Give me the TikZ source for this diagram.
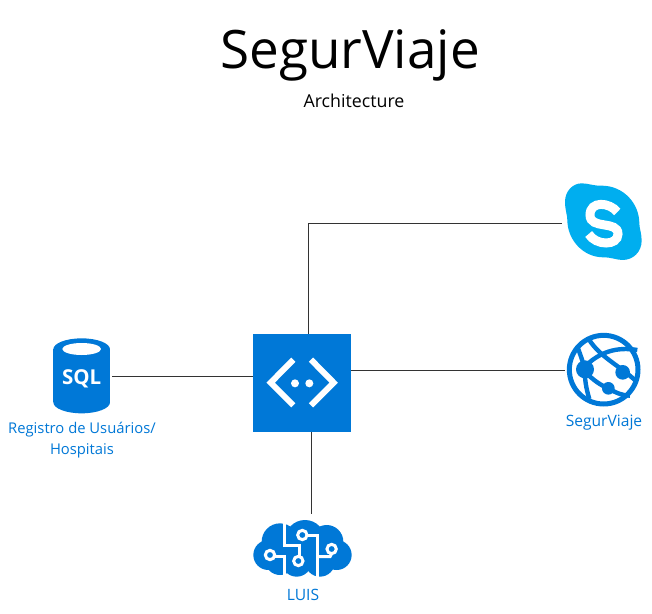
\documentclass[tikz,border=0pt]{standalone}
\usepackage{fontspec}
\setmainfont{Open Sans}
\newfontfamily\sqlfont{Open Sans}
\definecolor{azure}{HTML}{0078D7}
\definecolor{skypeblue}{HTML}{00AEEF}
\definecolor{wire}{HTML}{333333}
\tikzset{
 wirelink/.style={draw=wire,line width=1pt},
 iconlabel/.style={text=azure,font=\fontsize{14.8}{21}\selectfont,align=center,inner sep=0pt},
 icon/.style={shift={(#1)},x=0.3333pt,y=-0.3333pt},
}
\begin{document}
\begin{tikzpicture}[x=1pt,y=-1pt]
\useasboundingbox (0,0) rectangle (652,613);
\fill[white] (0,0) rectangle (652,613);
% titles
\node[inner sep=0pt,font=\fontsize{53}{60}\selectfont] (title) at (350,55) {SegurViaje};
\node[inner sep=0pt,font=\fontsize{17.8}{22}\selectfont] (subtitle) at (354,101) {Architecture};
% hub
\node[fill=azure,inner sep=0pt,minimum width=98pt,minimum height=98pt] (api) at (302,383) {};
\coordinate (skypeend) at (562,223);
\coordinate (webend) at (565,370);
\coordinate (sqlend) at (112,376);
\coordinate (luisend) at (311,514);
\coordinate (apitop) at (308.5,334);
\coordinate (apiright) at (351,370);
\coordinate (apileft) at (253,376);
\coordinate (apibottom) at (311,432);
\draw[wirelink] (apitop) |- (skypeend);
\draw[wirelink] (apiright) -- (webend);
\draw[wirelink] (apileft) -- (sqlend);
\draw[wirelink] (apibottom) -- (luisend);
% api glyph
\begin{scope}[icon={240,325}]
 \draw[white,line width=6pt,line join=miter] (160,104) -- (92,173) -- (160,241);
 \draw[white,line width=6pt,line join=miter] (213,104) -- (281,173) -- (213,241);
 \fill[white] (165,175) circle[radius=12] (208,175) circle[radius=12];
\end{scope}
% skype
\begin{scope}[icon={540,170}]
 \fill[skypeblue] (125,40) .. controls (145,40) and (160,48) .. (185,47)
   .. controls (250,47) and (298,100) .. (298,160)
   .. controls (298,175) and (305,190) .. (305,212)
   .. controls (305,245) and (280,270) .. (248,270)
   .. controls (230,270) and (215,262) .. (190,262)
   .. controls (130,262) and (82,210) .. (82,150)
   .. controls (82,135) and (75,120) .. (75,95)
   .. controls (75,65) and (97,40) .. (125,40) -- cycle;
 \draw[white,line width=9pt] (232,126)
   .. controls (208,96) and (150,92) .. (150,135)
   .. controls (150,180) and (234,150) .. (234,192)
   .. controls (234,228) and (168,228) .. (146,192);
\end{scope}
% web app
\begin{scope}[icon={550,325}]
 \draw[azure,line width=5pt] (161,134) circle[radius=103];
 \begin{scope}[line width=4.4pt]
  \draw[azure] (118,45) .. controls (150,95) and (205,120) .. (258,168);
  \draw[azure] (84,70) .. controls (95,100) and (100,115) .. (104,133)
               .. controls (104,160) and (108,190) .. (118,222);
  \draw[azure] (104,125) .. controls (150,80) and (200,65) .. (262,75);
  \draw[azure] (104,140) .. controls (130,165) and (150,180) .. (175,190)
               .. controls (200,205) and (220,212) .. (240,212);
 \end{scope}
 \fill[azure] (105,133) circle[radius=27] (218,142) circle[radius=22] (175,190) circle[radius=19];
\end{scope}
\node[iconlabel,font=\fontsize{15.6}{21}\selectfont] (weblabel) at (604,423) {SegurViaje};
% sql
\begin{scope}[icon={0,330}]
 \fill[azure] (160,58) rectangle (330,217);
 \fill[azure] (245,58) ellipse[x radius=85,y radius=33] (245,217) ellipse[x radius=85,y radius=33];
 \fill[white] (245,57) ellipse[x radius=58,y radius=18];
 \node[text=white,inner sep=0pt,font=\sqlfont\bfseries\fontsize{20.5}{22}\selectfont] (sqltext) at (245,145) {SQL};
\end{scope}
\node[iconlabel] (sqllabel) at (82,440) {Registro de Usuários/\\Hospitais};
% luis
\begin{scope}[icon={240,505}]
 \fill[azure] (85,150) circle[radius=45] (120,110) circle[radius=55] (195,105) circle[radius=60]
   (260,110) circle[radius=50] (290,150) circle[radius=45] (170,170) circle[radius=45]
   (240,170) circle[radius=45] (120,165) circle[radius=45];
 \begin{scope}[white,line width=3pt]
  \draw (133,50) -- (133,122) -- (178,122) -- (178,155);
  \draw (133,214) -- (133,155) -- (104,155);
  \draw (233,216) -- (233,90) -- (201,90);
  \draw (233,155) -- (270,155) -- (275,146);
  \foreach \c in {(175,168),(90,150),(187,90),(275,132)}
    \draw \c circle[radius=14];
 \end{scope}
\end{scope}
\node[iconlabel,font=\fontsize{15.6}{21}\selectfont] (luislabel) at (303,594.5) {LUIS};
\end{tikzpicture}
\end{document}
